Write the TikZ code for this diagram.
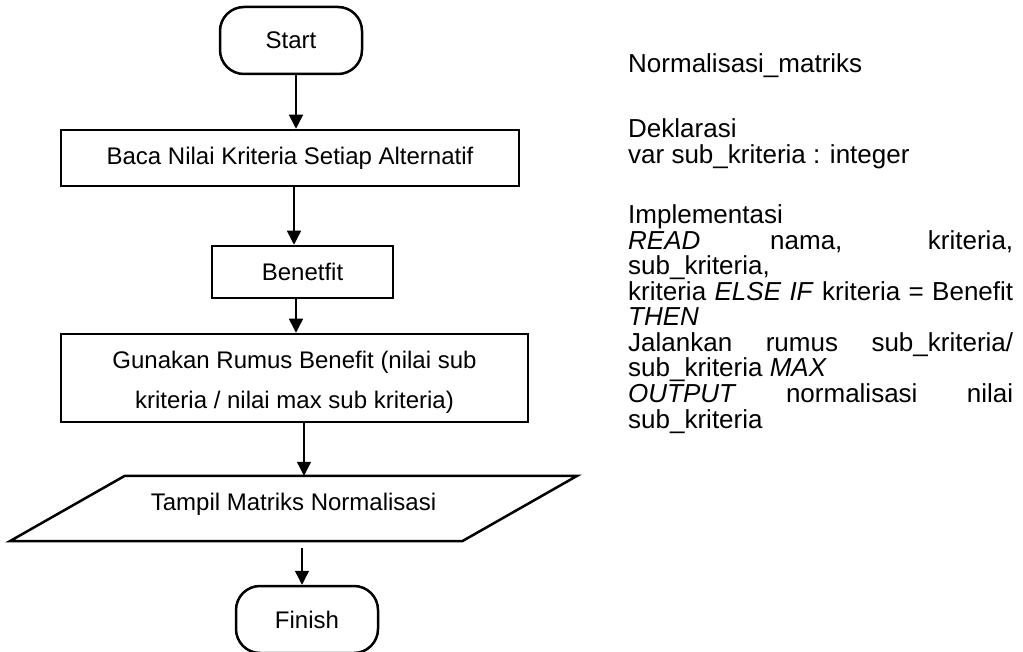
\documentclass[tikz,border=0pt]{standalone}
\usepackage{fontspec}
\setmainfont{Liberation Sans}
\usetikzlibrary{arrows.meta}

\begin{document}
\begin{tikzpicture}[x=1pt,y=-1pt,
  every node/.style={font=\fontsize{24}{28}\selectfont, inner sep=0pt},
  term/.style={draw, line width=2.5pt, rounded corners=24pt,
               minimum width=142pt, minimum height=67pt},
  procbox/.style={draw, line width=2.5pt, minimum height=56pt},
  iobox/.style={minimum width=452pt, minimum height=65pt},
  arr/.style={line width=1.4pt, -{Triangle[length=14pt,width=14pt]}},
  code/.style={anchor=base west, font=\fontsize{26}{25.5}\selectfont},
]
\useasboundingbox (0,0) rectangle (1023,652);

% flowchart nodes
\node[term] (start) at (291,40.5) {Start};
\node[procbox, minimum width=458pt] (baca) at (290,158) {Baca Nilai Kriteria Setiap Alternatif};
\node[procbox, minimum width=181pt, minimum height=52pt] (benefit) at (302.5,272) {Benetfit};
\node[procbox, minimum width=467pt, minimum height=88pt] (rumus) at (294.5,378) {};
\node[align=center, font=\fontsize{24}{40}\selectfont] (rumustext) at ([yshift=-4pt]rumus.center)
      {Gunakan Rumus Benefit (nilai sub\\kriteria / nilai max sub kriteria)};
\node[iobox] (tampil) at (293.5,508.5) {};
\node (tampiltext) at ([yshift=4pt]tampil.center) {Tampil Matriks Normalisasi};
\draw[line width=2.5pt, line join=miter]
  ([xshift=-57.5pt]tampil.south west) -- ([xshift=57.5pt]tampil.north west)
  -- ([xshift=57.5pt]tampil.north east) -- ([xshift=-57.5pt]tampil.south east) -- cycle;
\node[term, minimum width=142pt] (finish) at (307,619.5) {Finish};

% connector columns
\coordinate (c1) at (296,0);
\coordinate (c2) at (294,0);
\coordinate (c3) at (296,0);
\coordinate (c4) at (304,0);
\coordinate (c5) at (302,0);

\draw[arr] (start.south -| c1) -- (baca.north -| c1);
\draw[arr] (baca.south -| c2) -- (benefit.north -| c2);
\draw[arr] (benefit.south -| c3) -- (rumus.north -| c3);
\draw[arr] (rumus.south -| c4) -- (tampil.north -| c4);
\draw[arr, shorten <=7pt] (tampil.south -| c5) -- (finish.north -| c5);

% pseudocode
\node[code] (t1)  at (628,73)  {Normalisasi\_matriks};
\node[code] (t2)  at (628,138) {Deklarasi};
\node[code] (t3)  at (628,163.5) {var sub\_kriteria : integer};
\node[code] (t4)  at (628,224) {Implementasi};
\node[code] (t5)  at (628,249.5) {\makebox[385pt][s]{\textit{READ} nama, kriteria,}};
\node[code] (t6)  at (628,275) {sub\_kriteria,};
\node[code] (t7)  at (628,300.5) {\makebox[385pt][s]{kriteria \textit{ELSE IF} kriteria = Benefit}};
\node[code] (t8)  at (628,326) {\textit{THEN}};
\node[code] (t9)  at (628,351.5) {\makebox[385pt][s]{Jalankan rumus sub\_kriteria/}};
\node[code] (t10) at (628,377) {sub\_kriteria \textit{MAX}};
\node[code] (t11) at (628,402.5) {\makebox[385pt][s]{\textit{OUTPUT} normalisasi nilai}};
\node[code] (t12) at (628,428) {sub\_kriteria};
\end{tikzpicture}
\end{document}
